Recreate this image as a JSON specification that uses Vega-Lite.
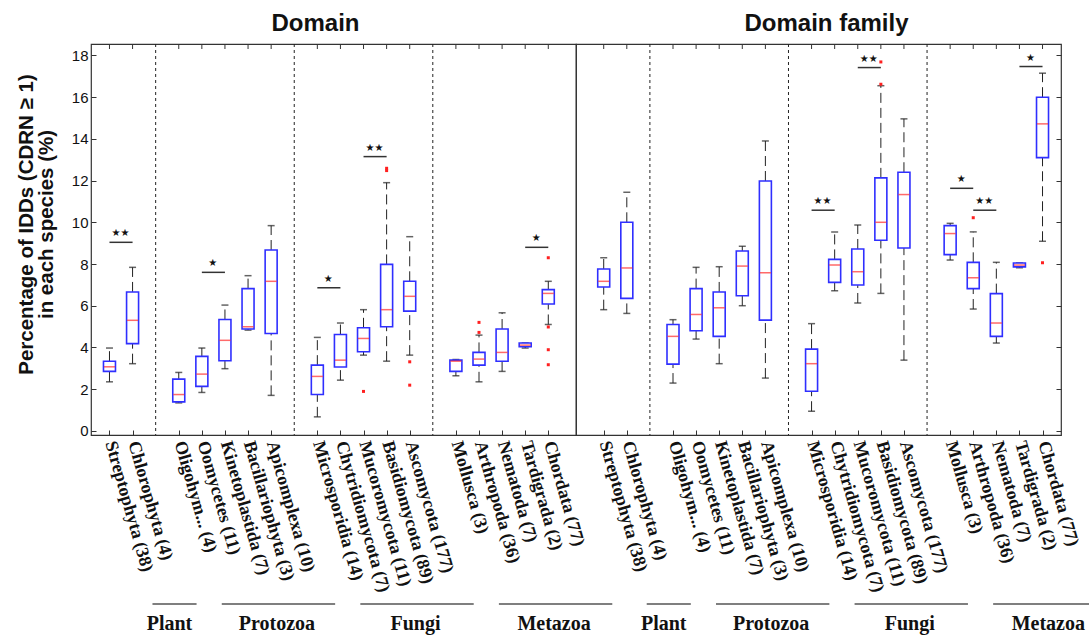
{
  "$schema": "https://vega.github.io/schema/vega-lite/v6.json",
  "background": "white",
  "padding": {"left": 15, "top": 10, "right": 0, "bottom": 0},
  "datasets": {
    "boxes": [
      {"level": "Domain", "taxon": "Streptophyta (38)", "lo": 2.35, "q1": 2.85, "med": 3.07, "q3": 3.34, "hi": 3.97},
      {"level": "Domain", "taxon": "Chlorophyta (4)", "lo": 3.22, "q1": 4.18, "med": 5.3, "q3": 6.66, "hi": 7.84},
      {"level": "Domain", "taxon": "Oligohym... (4)", "lo": 1.34, "q1": 1.39, "med": 1.74, "q3": 2.48, "hi": 2.8},
      {"level": "Domain", "taxon": "Oomycetes (11)", "lo": 1.84, "q1": 2.13, "med": 2.72, "q3": 3.57, "hi": 3.97},
      {"level": "Domain", "taxon": "Kinetoplastida (7)", "lo": 2.98, "q1": 3.36, "med": 4.34, "q3": 5.34, "hi": 6.03},
      {"level": "Domain", "taxon": "Bacillariophyta (3)", "lo": 4.83, "q1": 4.88, "med": 4.99, "q3": 6.82, "hi": 7.44},
      {"level": "Domain", "taxon": "Apicomplexa (10)", "lo": 1.7, "q1": 4.67, "med": 7.17, "q3": 8.67, "hi": 9.84},
      {"level": "Domain", "taxon": "Microsporidia (14)", "lo": 0.67, "q1": 1.74, "med": 2.61, "q3": 3.15, "hi": 4.48},
      {"level": "Domain", "taxon": "Chytridiomycota (7)", "lo": 2.43, "q1": 3.06, "med": 3.39, "q3": 4.62, "hi": 5.17},
      {"level": "Domain", "taxon": "Mucoromycota (11)", "lo": 3.63, "q1": 3.79, "med": 4.43, "q3": 4.94, "hi": 5.81},
      {"level": "Domain", "taxon": "Basidiomycota (89)", "lo": 3.34, "q1": 4.99, "med": 5.81, "q3": 7.98, "hi": 11.9},
      {"level": "Domain", "taxon": "Ascomycota (177)", "lo": 3.63, "q1": 5.74, "med": 6.45, "q3": 7.17, "hi": 9.31},
      {"level": "Domain", "taxon": "Mollusca (3)", "lo": 2.64, "q1": 2.85, "med": 3.34, "q3": 3.39, "hi": 3.42},
      {"level": "Domain", "taxon": "Arthropoda (36)", "lo": 2.35, "q1": 3.15, "med": 3.44, "q3": 3.76, "hi": 4.59},
      {"level": "Domain", "taxon": "Nematoda (7)", "lo": 2.85, "q1": 3.34, "med": 3.76, "q3": 4.88, "hi": 5.66},
      {"level": "Domain", "taxon": "Tardigrada (2)", "lo": 3.97, "q1": 4.03, "med": 4.11, "q3": 4.21, "hi": 4.21},
      {"level": "Domain", "taxon": "Chordata (77)", "lo": 5.1, "q1": 6.08, "med": 6.59, "q3": 6.77, "hi": 7.17},
      {"level": "Domain family", "taxon": "Streptophyta (38)", "lo": 5.81, "q1": 6.9, "med": 7.17, "q3": 7.76, "hi": 8.3},
      {"level": "Domain family", "taxon": "Chlorophyta (4)", "lo": 5.63, "q1": 6.35, "med": 7.81, "q3": 10.0, "hi": 11.44},
      {"level": "Domain family", "taxon": "Oligohym... (4)", "lo": 2.29, "q1": 3.2, "med": 4.53, "q3": 5.1, "hi": 5.33},
      {"level": "Domain family", "taxon": "Oomycetes (11)", "lo": 4.4, "q1": 4.8, "med": 5.58, "q3": 6.82, "hi": 7.84},
      {"level": "Domain family", "taxon": "Kinetoplastida (7)", "lo": 3.22, "q1": 4.53, "med": 5.9, "q3": 6.66, "hi": 7.87},
      {"level": "Domain family", "taxon": "Bacillariophyta (3)", "lo": 6.0, "q1": 6.48, "med": 7.9, "q3": 8.62, "hi": 8.85},
      {"level": "Domain family", "taxon": "Apicomplexa (10)", "lo": 2.53, "q1": 5.31, "med": 7.58, "q3": 11.98, "hi": 13.9},
      {"level": "Domain family", "taxon": "Microsporidia (14)", "lo": 0.94, "q1": 1.9, "med": 3.22, "q3": 3.92, "hi": 5.14},
      {"level": "Domain family", "taxon": "Chytridiomycota (7)", "lo": 6.72, "q1": 7.12, "med": 7.95, "q3": 8.22, "hi": 9.54},
      {"level": "Domain family", "taxon": "Mucoromycota (11)", "lo": 6.13, "q1": 6.99, "med": 7.63, "q3": 8.72, "hi": 9.87},
      {"level": "Domain family", "taxon": "Basidiomycota (89)", "lo": 6.59, "q1": 9.14, "med": 10.0, "q3": 12.13, "hi": 16.55},
      {"level": "Domain family", "taxon": "Ascomycota (177)", "lo": 3.39, "q1": 8.77, "med": 11.33, "q3": 12.4, "hi": 14.96},
      {"level": "Domain family", "taxon": "Mollusca (3)", "lo": 8.19, "q1": 8.45, "med": 9.46, "q3": 9.84, "hi": 9.95},
      {"level": "Domain family", "taxon": "Arthropoda (36)", "lo": 5.84, "q1": 6.82, "med": 7.34, "q3": 8.08, "hi": 9.54},
      {"level": "Domain family", "taxon": "Nematoda (7)", "lo": 4.21, "q1": 4.53, "med": 5.17, "q3": 6.58, "hi": 8.08},
      {"level": "Domain family", "taxon": "Tardigrada (2)", "lo": 7.82, "q1": 7.86, "med": 7.95, "q3": 8.05, "hi": 8.05},
      {"level": "Domain family", "taxon": "Chordata (77)", "lo": 9.09, "q1": 13.1, "med": 14.72, "q3": 16.0, "hi": 17.15}
    ],
    "outliers": [
      {"level": "Domain", "taxon": "Mucoromycota (11)", "value": 1.89},
      {"level": "Domain", "taxon": "Basidiomycota (89)", "value": 12.48},
      {"level": "Domain", "taxon": "Basidiomycota (89)", "value": 12.59},
      {"level": "Domain", "taxon": "Ascomycota (177)", "value": 3.31},
      {"level": "Domain", "taxon": "Ascomycota (177)", "value": 2.19},
      {"level": "Domain", "taxon": "Arthropoda (36)", "value": 4.72},
      {"level": "Domain", "taxon": "Arthropoda (36)", "value": 5.2},
      {"level": "Domain", "taxon": "Chordata (77)", "value": 8.3},
      {"level": "Domain", "taxon": "Chordata (77)", "value": 4.98},
      {"level": "Domain", "taxon": "Chordata (77)", "value": 3.89},
      {"level": "Domain", "taxon": "Chordata (77)", "value": 3.17},
      {"level": "Domain family", "taxon": "Basidiomycota (89)", "value": 16.62},
      {"level": "Domain family", "taxon": "Basidiomycota (89)", "value": 17.69},
      {"level": "Domain family", "taxon": "Arthropoda (36)", "value": 10.22},
      {"level": "Domain family", "taxon": "Chordata (77)", "value": 8.06}
    ],
    "sig": [
      {"level": "Domain", "from": "Streptophyta (38)", "to": "Chlorophyta (4)", "at": 9.04, "stars": "★★"},
      {"level": "Domain", "from": "Oomycetes (11)", "to": "Kinetoplastida (7)", "at": 7.6, "stars": "★"},
      {"level": "Domain", "from": "Microsporidia (14)", "to": "Chytridiomycota (7)", "at": 6.86, "stars": "★"},
      {"level": "Domain", "from": "Mucoromycota (11)", "to": "Basidiomycota (89)", "at": 13.15, "stars": "★★"},
      {"level": "Domain", "from": "Tardigrada (2)", "to": "Chordata (77)", "at": 8.8, "stars": "★"},
      {"level": "Domain family", "from": "Microsporidia (14)", "to": "Chytridiomycota (7)", "at": 10.58, "stars": "★★"},
      {"level": "Domain family", "from": "Mucoromycota (11)", "to": "Basidiomycota (89)", "at": 17.42, "stars": "★★"},
      {"level": "Domain family", "from": "Mollusca (3)", "to": "Arthropoda (36)", "at": 11.63, "stars": "★"},
      {"level": "Domain family", "from": "Arthropoda (36)", "to": "Nematoda (7)", "at": 10.58, "stars": "★★"},
      {"level": "Domain family", "from": "Tardigrada (2)", "to": "Chordata (77)", "at": 17.47, "stars": "★"}
    ],
    "groups": [
      {"group": "Plant", "first": "Streptophyta (38)", "mid": "Streptophyta (38)", "last": "Chlorophyta (4)"},
      {"group": "Protozoa", "first": "Oligohym... (4)", "mid": "Kinetoplastida (7)", "last": "Apicomplexa (10)"},
      {"group": "Fungi", "first": "Microsporidia (14)", "mid": "Mucoromycota (11)", "last": "Ascomycota (177)"},
      {"group": "Metazoa", "first": "Mollusca (3)", "mid": "Nematoda (7)", "last": "Chordata (77)"}
    ],
    "seps": [{"sep": "sep-1"}, {"sep": "sep-2"}, {"sep": "sep-3"}]
  },
  "hconcat": [
    {
      "width": 485,
      "height": 391,
      "title": {"text": "Domain", "dx": -18},
      "data": {"name": "boxes"},
      "transform": [{"filter": "datum.level === 'Domain'"}],
      "encoding": {
        "x": {
          "field": "taxon", "type": "nominal", "axis": null,
          "scale": {"type": "point", "padding": 1.25, "align": 0.4,
            "domain": ["Streptophyta (38)", "Chlorophyta (4)", "sep-1", "Oligohym... (4)", "Oomycetes (11)", "Kinetoplastida (7)", "Bacillariophyta (3)", "Apicomplexa (10)", "sep-2", "Microsporidia (14)", "Chytridiomycota (7)", "Mucoromycota (11)", "Basidiomycota (89)", "Ascomycota (177)", "sep-3", "Mollusca (3)", "Arthropoda (36)", "Nematoda (7)", "Tardigrada (2)", "Chordata (77)"]}
        }
      },
      "resolve": {"axis": {"x": "independent", "y": "independent"}},
      "layer": [
        {
          "data": {"name": "seps"},
          "mark": {"type": "rule", "color": "#222", "strokeWidth": 1, "strokeDash": [3, 3]},
          "encoding": {"x": {"field": "sep", "type": "nominal", "axis": null}}
        },
        {
          "mark": {"type": "rule", "color": "#333", "strokeWidth": 1},
          "encoding": {"y": {"datum": 18.55, "axis": null}, "y2": {"datum": 18.31}}
        },
        {
          "mark": {"type": "rule", "color": "#222", "strokeWidth": 1, "strokeDash": [10, 5]},
          "encoding": {
            "x": {"field": "taxon", "type": "nominal",
              "axis": {"orient": "bottom", "title": null, "domain": false, "tickSize": 5, "offset": -5, "tickColor": "#333",
                "labelAngle": 74, "labelAlign": "left", "labelBaseline": "middle", "labelPadding": 6, "labelLimit": 300, "labelOverlap": false,
                "labelFont": "Liberation Serif", "labelFontWeight": "bold", "labelFontSize": 18, "labelColor": "#111",
                "values": ["Streptophyta (38)", "Chlorophyta (4)", "Oligohym... (4)", "Oomycetes (11)", "Kinetoplastida (7)", "Bacillariophyta (3)", "Apicomplexa (10)", "Microsporidia (14)", "Chytridiomycota (7)", "Mucoromycota (11)", "Basidiomycota (89)", "Ascomycota (177)", "Mollusca (3)", "Arthropoda (36)", "Nematoda (7)", "Tardigrada (2)", "Chordata (77)"]}},
            "y": {"field": "lo", "type": "quantitative",
              "scale": {"domain": [-0.2, 18.55], "nice": false, "zero": false},
              "axis": {"orient": "left", "values": [0, 2, 4, 6, 8, 10, 12, 14, 16, 18], "format": "d", "grid": false, "domain": false,
                "tickSize": 5, "offset": -5, "tickColor": "#333", "labelPadding": 3, "labelFont": "Liberation Sans", "labelFontSize": 15, "labelColor": "#111",
                "title": ["Percentage of IDDs (CDRN ≥ 1)", "in each species (%)"], "titleFont": "Liberation Sans", "titleFontSize": 20.5,
                "titleFontWeight": "bold", "titleColor": "#111", "titleLineHeight": 20, "titlePadding": 15, "titleY": 180}},
            "y2": {"field": "q1"}
          }
        },
        {
          "mark": {"type": "rule", "color": "#222", "strokeWidth": 1, "strokeDash": [10, 5]},
          "encoding": {
            "y": {"field": "q3", "type": "quantitative", "axis": null, "scale": {"domain": [-0.2, 18.55], "nice": false, "zero": false}},
            "y2": {"field": "hi"}
          }
        },
        {
          "mark": {"type": "tick", "color": "#222", "size": 7, "thickness": 1.5},
          "encoding": {"y": {"field": "lo", "type": "quantitative", "axis": null, "scale": {"domain": [-0.2, 18.55], "nice": false, "zero": false}}}
        },
        {
          "mark": {"type": "tick", "color": "#222", "size": 7, "thickness": 1.5},
          "encoding": {"y": {"field": "hi", "type": "quantitative", "axis": null, "scale": {"domain": [-0.2, 18.55], "nice": false, "zero": false}}}
        },
        {
          "mark": {"type": "bar", "width": 12, "fill": "#ffffff", "stroke": "#2f2fff", "strokeWidth": 1.6},
          "encoding": {
            "y": {"field": "q1", "type": "quantitative", "axis": null, "scale": {"domain": [-0.2, 18.55], "nice": false, "zero": false}},
            "y2": {"field": "q3"}
          }
        },
        {
          "mark": {"type": "tick", "color": "#ff2b2b", "size": 11, "thickness": 1.5},
          "encoding": {"y": {"field": "med", "type": "quantitative", "axis": null, "scale": {"domain": [-0.2, 18.55], "nice": false, "zero": false}}}
        },
        {
          "data": {"name": "outliers"},
          "transform": [{"filter": "datum.level === 'Domain'"}],
          "mark": {"type": "square", "color": "#ff2020", "size": 9, "opacity": 1},
          "encoding": {
            "x": {"field": "taxon", "type": "nominal", "axis": null},
            "y": {"field": "value", "type": "quantitative", "axis": null, "scale": {"domain": [-0.2, 18.55], "nice": false, "zero": false}}
          }
        },
        {
          "data": {"name": "sig"},
          "transform": [{"filter": "datum.level === 'Domain'"}],
          "mark": {"type": "rule", "color": "#333", "strokeWidth": 1.5},
          "encoding": {
            "x": {"field": "from", "type": "nominal", "axis": null},
            "x2": {"field": "to"},
            "y": {"field": "at", "type": "quantitative", "axis": null, "scale": {"domain": [-0.2, 18.55], "nice": false, "zero": false}}
          }
        },
        {
          "data": {"name": "sig"},
          "transform": [{"filter": "datum.level === 'Domain'"}],
          "mark": {"type": "text", "dx": 11, "dy": -9, "font": "DejaVu Sans", "fontSize": 10, "color": "#111", "baseline": "middle"},
          "encoding": {
            "x": {"field": "from", "type": "nominal", "axis": null},
            "y": {"field": "at", "type": "quantitative", "axis": null, "scale": {"domain": [-0.2, 18.55], "nice": false, "zero": false}},
            "text": {"field": "stars"}
          }
        },
        {
          "data": {"name": "groups"},
          "mark": {"type": "rule", "color": "#555", "strokeWidth": 1.5, "xOffset": 43, "x2Offset": 64},
          "encoding": {
            "x": {"field": "first", "type": "nominal", "axis": null},
            "x2": {"field": "last"},
            "y": {"datum": -8.3, "axis": null}
          }
        },
        {
          "data": {"name": "groups"},
          "transform": [{"filter": "datum.group !== 'Plant'"}],
          "mark": {"type": "text", "dx": 52, "font": "Liberation Serif", "fontWeight": "bold", "fontSize": 20, "color": "#111", "baseline": "middle"},
          "encoding": {
            "x": {"field": "mid", "type": "nominal", "axis": null},
            "y": {"datum": -9.25, "axis": null},
            "text": {"field": "group"}
          }
        },
        {
          "data": {"name": "groups"},
          "transform": [{"filter": "datum.group === 'Plant'"}],
          "mark": {"type": "text", "dx": 60, "font": "Liberation Serif", "fontWeight": "bold", "fontSize": 20, "color": "#111", "baseline": "middle"},
          "encoding": {
            "x": {"field": "first", "type": "nominal", "axis": null},
            "y": {"datum": -9.25, "axis": null},
            "text": {"field": "group"}
          }
        }
      ]
    },
    {
      "width": 485,
      "height": 391,
      "title": {"text": "Domain family", "dx": 8},
      "data": {"name": "boxes"},
      "transform": [{"filter": "datum.level === 'Domain family'"}],
      "encoding": {
        "x": {
          "field": "taxon", "type": "nominal", "axis": null,
          "scale": {"type": "point", "padding": 1.25, "align": 0.6,
            "domain": ["Streptophyta (38)", "Chlorophyta (4)", "sep-1", "Oligohym... (4)", "Oomycetes (11)", "Kinetoplastida (7)", "Bacillariophyta (3)", "Apicomplexa (10)", "sep-2", "Microsporidia (14)", "Chytridiomycota (7)", "Mucoromycota (11)", "Basidiomycota (89)", "Ascomycota (177)", "sep-3", "Mollusca (3)", "Arthropoda (36)", "Nematoda (7)", "Tardigrada (2)", "Chordata (77)"]}
        }
      },
      "resolve": {"axis": {"x": "independent", "y": "independent"}},
      "layer": [
        {
          "data": {"name": "seps"},
          "mark": {"type": "rule", "color": "#222", "strokeWidth": 1, "strokeDash": [3, 3]},
          "encoding": {"x": {"field": "sep", "type": "nominal", "axis": null}}
        },
        {
          "mark": {"type": "rule", "color": "#333", "strokeWidth": 1},
          "encoding": {"y": {"datum": 18.55, "axis": null}, "y2": {"datum": 18.31}}
        },
        {
          "mark": {"type": "rule", "color": "#222", "strokeWidth": 1, "strokeDash": [10, 5]},
          "encoding": {
            "x": {"field": "taxon", "type": "nominal",
              "axis": {"orient": "bottom", "title": null, "domain": false, "tickSize": 5, "offset": -5, "tickColor": "#333",
                "labelAngle": 74, "labelAlign": "left", "labelBaseline": "middle", "labelPadding": 6, "labelLimit": 300, "labelOverlap": false,
                "labelFont": "Liberation Serif", "labelFontWeight": "bold", "labelFontSize": 18, "labelColor": "#111",
                "values": ["Streptophyta (38)", "Chlorophyta (4)", "Oligohym... (4)", "Oomycetes (11)", "Kinetoplastida (7)", "Bacillariophyta (3)", "Apicomplexa (10)", "Microsporidia (14)", "Chytridiomycota (7)", "Mucoromycota (11)", "Basidiomycota (89)", "Ascomycota (177)", "Mollusca (3)", "Arthropoda (36)", "Nematoda (7)", "Tardigrada (2)", "Chordata (77)"]}},
            "y": {"field": "lo", "type": "quantitative",
              "scale": {"domain": [-0.2, 18.55], "nice": false, "zero": false},
              "axis": {"orient": "right", "values": [0, 2, 4, 6, 8, 10, 12, 14, 16, 18], "labels": false, "title": null, "grid": false, "domain": false,
                "tickSize": 5, "offset": -5, "tickColor": "#333"}},
            "y2": {"field": "q1"}
          }
        },
        {
          "mark": {"type": "rule", "color": "#222", "strokeWidth": 1, "strokeDash": [10, 5]},
          "encoding": {
            "y": {"field": "q3", "type": "quantitative", "axis": null, "scale": {"domain": [-0.2, 18.55], "nice": false, "zero": false}},
            "y2": {"field": "hi"}
          }
        },
        {
          "mark": {"type": "tick", "color": "#222", "size": 7, "thickness": 1.5},
          "encoding": {"y": {"field": "lo", "type": "quantitative", "axis": null, "scale": {"domain": [-0.2, 18.55], "nice": false, "zero": false}}}
        },
        {
          "mark": {"type": "tick", "color": "#222", "size": 7, "thickness": 1.5},
          "encoding": {"y": {"field": "hi", "type": "quantitative", "axis": null, "scale": {"domain": [-0.2, 18.55], "nice": false, "zero": false}}}
        },
        {
          "mark": {"type": "bar", "width": 12, "fill": "#ffffff", "stroke": "#2f2fff", "strokeWidth": 1.6},
          "encoding": {
            "y": {"field": "q1", "type": "quantitative", "axis": null, "scale": {"domain": [-0.2, 18.55], "nice": false, "zero": false}},
            "y2": {"field": "q3"}
          }
        },
        {
          "mark": {"type": "tick", "color": "#ff2b2b", "size": 11, "thickness": 1.5},
          "encoding": {"y": {"field": "med", "type": "quantitative", "axis": null, "scale": {"domain": [-0.2, 18.55], "nice": false, "zero": false}}}
        },
        {
          "data": {"name": "outliers"},
          "transform": [{"filter": "datum.level === 'Domain family'"}],
          "mark": {"type": "square", "color": "#ff2020", "size": 9, "opacity": 1},
          "encoding": {
            "x": {"field": "taxon", "type": "nominal", "axis": null},
            "y": {"field": "value", "type": "quantitative", "axis": null, "scale": {"domain": [-0.2, 18.55], "nice": false, "zero": false}}
          }
        },
        {
          "data": {"name": "sig"},
          "transform": [{"filter": "datum.level === 'Domain family'"}],
          "mark": {"type": "rule", "color": "#333", "strokeWidth": 1.5},
          "encoding": {
            "x": {"field": "from", "type": "nominal", "axis": null},
            "x2": {"field": "to"},
            "y": {"field": "at", "type": "quantitative", "axis": null, "scale": {"domain": [-0.2, 18.55], "nice": false, "zero": false}}
          }
        },
        {
          "data": {"name": "sig"},
          "transform": [{"filter": "datum.level === 'Domain family'"}],
          "mark": {"type": "text", "dx": 11, "dy": -9, "font": "DejaVu Sans", "fontSize": 10, "color": "#111", "baseline": "middle"},
          "encoding": {
            "x": {"field": "from", "type": "nominal", "axis": null},
            "y": {"field": "at", "type": "quantitative", "axis": null, "scale": {"domain": [-0.2, 18.55], "nice": false, "zero": false}},
            "text": {"field": "stars"}
          }
        },
        {
          "data": {"name": "groups"},
          "mark": {"type": "rule", "color": "#555", "strokeWidth": 1.5, "xOffset": 43, "x2Offset": 64},
          "encoding": {
            "x": {"field": "first", "type": "nominal", "axis": null},
            "x2": {"field": "last"},
            "y": {"datum": -8.3, "axis": null}
          }
        },
        {
          "data": {"name": "groups"},
          "transform": [{"filter": "datum.group !== 'Plant'"}],
          "mark": {"type": "text", "dx": 52, "font": "Liberation Serif", "fontWeight": "bold", "fontSize": 20, "color": "#111", "baseline": "middle"},
          "encoding": {
            "x": {"field": "mid", "type": "nominal", "axis": null},
            "y": {"datum": -9.25, "axis": null},
            "text": {"field": "group"}
          }
        },
        {
          "data": {"name": "groups"},
          "transform": [{"filter": "datum.group === 'Plant'"}],
          "mark": {"type": "text", "dx": 60, "font": "Liberation Serif", "fontWeight": "bold", "fontSize": 20, "color": "#111", "baseline": "middle"},
          "encoding": {
            "x": {"field": "first", "type": "nominal", "axis": null},
            "y": {"datum": -9.25, "axis": null},
            "text": {"field": "group"}
          }
        }
      ]
    }
  ],
  "spacing": 0,
  "bounds": "flush",
  "config": {
    "view": {"stroke": "#333", "strokeWidth": 1.2},
    "title": {"font": "Liberation Sans", "fontSize": 24, "fontWeight": "bold", "color": "#111", "offset": 8}
  }
}
